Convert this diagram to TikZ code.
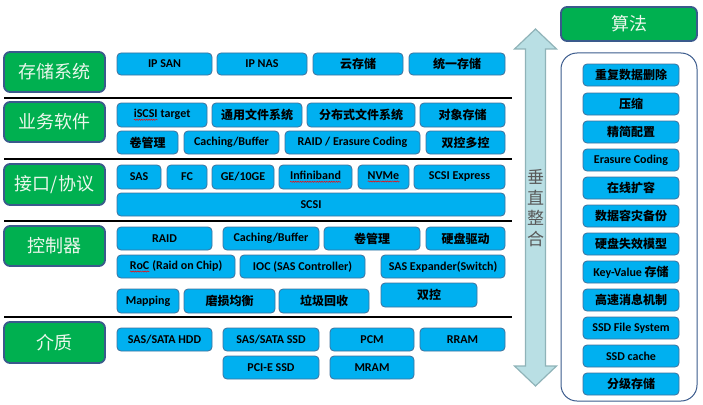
\documentclass[tikz,border=0pt]{standalone}
\usepackage{fontspec}
\setmainfont{Carlito}
\newfontfamily\cjk{Noto Sans CJK SC}
\usetikzlibrary{decorations.pathmorphing}
\newcommand\redwave[1]{\tikz[baseline=(w.base)]{\node[inner sep=0pt, outer sep=0pt, minimum width=0pt, minimum height=0pt, draw=none, fill=none, rounded corners=0pt, text=black] (w) {#1};
  \draw[red, line width=0.5pt, fill=none, rounded corners=0pt, decorate, decoration={snake, amplitude=0.6pt, segment length=2.4pt}] ([yshift=-2pt]w.base west) -- ([yshift=-2pt]w.base east);}}
\newcommand\zh[1]{{\cjk\bfseries #1}}
\definecolor{boxblue}{HTML}{00B0F0}
\definecolor{boxedge}{HTML}{41719C}
\definecolor{lblgreen}{HTML}{00B050}
\definecolor{lbledge}{HTML}{3A5A8C}
\definecolor{arrfill}{HTML}{B9DFE4}
\definecolor{arredge}{HTML}{8FB3B8}
\tikzset{
  bbox/.style={draw=boxedge, fill=boxblue, line width=0.8pt, rounded corners=4pt,
    inner sep=0pt, text=black, font=\bfseries\fontsize{12}{14}\selectfont},
  gbox/.style={draw=lbledge, fill=lblgreen, line width=1.8pt, rounded corners=6pt,
    inner sep=0pt, text={rgb,255:red,236;green,247;blue,236}, font=\cjk\fontsize{18}{20}\selectfont},
  sepline/.style={draw=black, line width=1.1pt},
  container/.style={draw=lbledge, line width=1pt, rounded corners=16pt},
  bigarrow/.style={draw=arredge, fill=arrfill, line width=1.2pt, line join=miter},
}
\newcommand\bb[6]{\node[bbox, minimum width={(#4-#2)*1pt}, minimum height={(#5-#3)*1pt}] (#1) at ({(#2+#4)/2},{(#3+#5)/2}) {#6};}
\newcommand\gb[6]{\node[gbox, minimum width={(#4-#2)*1pt}, minimum height={(#5-#3)*1pt}] (#1) at ({(#2+#4)/2},{(#3+#5)/2}) {#6};}
\begin{document}
\begin{tikzpicture}[x=1pt,y=-1pt]
\useasboundingbox (0,0) rectangle (703,404);
% labels
\gb{l1}{4}{52}{105}{92}{存储系统}
\gb{l2}{4}{102}{105}{142}{业务软件}
\gb{l3}{4}{164}{105}{205}{接口/协议}
\gb{l4}{4}{226}{105}{266}{控制器}
\gb{l5}{4}{322}{105}{363}{介质}
\gb{alg}{561}{7}{697}{41}{算法}
% separators
\draw[sepline] (4,98) -- (512,98);
\draw[sepline] (4,159) -- (512,159);
\draw[sepline] (4,221) -- (512,221);
\draw[sepline] (4,317) -- (512,317);
% row 1
\bb{ipsan}{117}{53}{212}{75}{IP SAN}
\bb{ipnas}{217}{53}{307}{75}{IP NAS}
\bb{cloud}{313}{53}{403}{75}{\zh{云存储}}
\bb{unified}{409}{53}{505}{75}{\zh{统一存储}}
% row 2
\bb{iscsi}{117}{103}{207}{127}{\redwave{iSCSI} target}
\bb{gfs}{212}{103}{302}{127}{\zh{通用文件系统}}
\bb{dfs}{307}{103}{415}{127}{\zh{分布式文件系统}}
\bb{obj}{420}{103}{505}{127}{\zh{对象存储}}
\bb{vol}{117}{131}{178}{154}{\zh{卷管理}}
\bb{cache}{184}{131}{279}{154}{Caching/Buffer}
\bb{raidec}{285}{131}{420}{154}{RAID / Erasure Coding}
\bb{dual}{426}{131}{505}{154}{\zh{双控多控}}
% row 3
\bb{sas}{117}{165}{161}{189}{SAS}
\bb{fc}{167}{165}{207}{189}{FC}
\bb{ge}{212}{165}{274}{189}{GE/10GE}
\bb{ib}{279}{165}{352}{189}{\redwave{Infiniband}}
\bb{nvme}{358}{165}{409}{189}{\redwave{NVMe}}
\bb{scsix}{414}{165}{505}{189}{SCSI Express}
\bb{scsi}{117}{193}{505}{216}{SCSI}
% row 4
\bb{raid}{117}{227}{212}{250}{RAID}
\bb{cache2}{223}{227}{319}{250}{Caching/Buffer}
\bb{vol2}{324}{227}{420}{250}{\zh{卷管理}}
\bb{drv}{426}{227}{505}{250}{\zh{硬盘驱动}}
\bb{roc}{117}{255}{235}{278}{\redwave{RoC} (Raid on Chip)}
\bb{ioc}{240}{255}{365}{278}{IOC (SAS Controller)}
\bb{exp}{381}{255}{505}{278}{SAS Expander(Switch)}
\bb{map}{117}{289}{179}{313}{Mapping}
\bb{wear}{184}{289}{275}{313}{\zh{磨损均衡}}
\bb{gc}{279}{289}{369}{313}{\zh{垃圾回收}}
\bb{dual2}{381}{283}{477}{307}{\zh{双控}}
% row 5
\bb{hdd}{117}{328}{212}{351}{SAS/SATA HDD}
\bb{ssd}{223}{328}{319}{351}{SAS/SATA SSD}
\bb{pcm}{330}{328}{414}{351}{PCM}
\bb{rram}{420}{328}{505}{351}{RRAM}
\bb{pcie}{223}{356}{319}{379}{PCI-E SSD}
\bb{mram}{330}{356}{414}{379}{MRAM}
% arrow
\draw[bigarrow] (535.5,29) -- (556.5,49) -- (545.5,49) -- (545.5,366) -- (556.5,366)
  -- (535.5,386) -- (514.5,366) -- (525.5,366) -- (525.5,49) -- (514.5,49) -- cycle;
\node[font=\cjk\fontsize{17}{20.5}\selectfont, text={rgb,255:red,89;green,89;blue,89}, align=center, inner sep=0pt] (vint) at (535.5,208) {垂\\直\\整\\合};
% algorithm container
\draw[container] (561,53) rectangle (697,401);
\bb{a1}{583}{64}{679}{86}{\zh{重复数据删除}}
\bb{a2}{583}{93}{679}{115}{\zh{压缩}}
\bb{a3}{583}{121}{679}{143}{\zh{精简配置}}
\bb{a4}{583}{149}{679}{171}{Erasure Coding}
\bb{a5}{583}{177}{679}{199}{\zh{在线扩容}}
\bb{a6}{583}{205}{679}{227}{\zh{数据容灾备份}}
\bb{a7}{583}{233}{679}{255}{\zh{硬盘失效模型}}
\bb{a8}{583}{261}{679}{283}{Key-Value \zh{存储}}
\bb{a9}{583}{289}{679}{311}{\zh{高速消息机制}}
\bb{a10}{583}{317}{679}{339}{SSD File System}
\bb{a11}{583}{345}{679}{367}{SSD cache}
\bb{a12}{583}{373}{679}{395}{\zh{分级存储}}
\end{tikzpicture}
\end{document}
